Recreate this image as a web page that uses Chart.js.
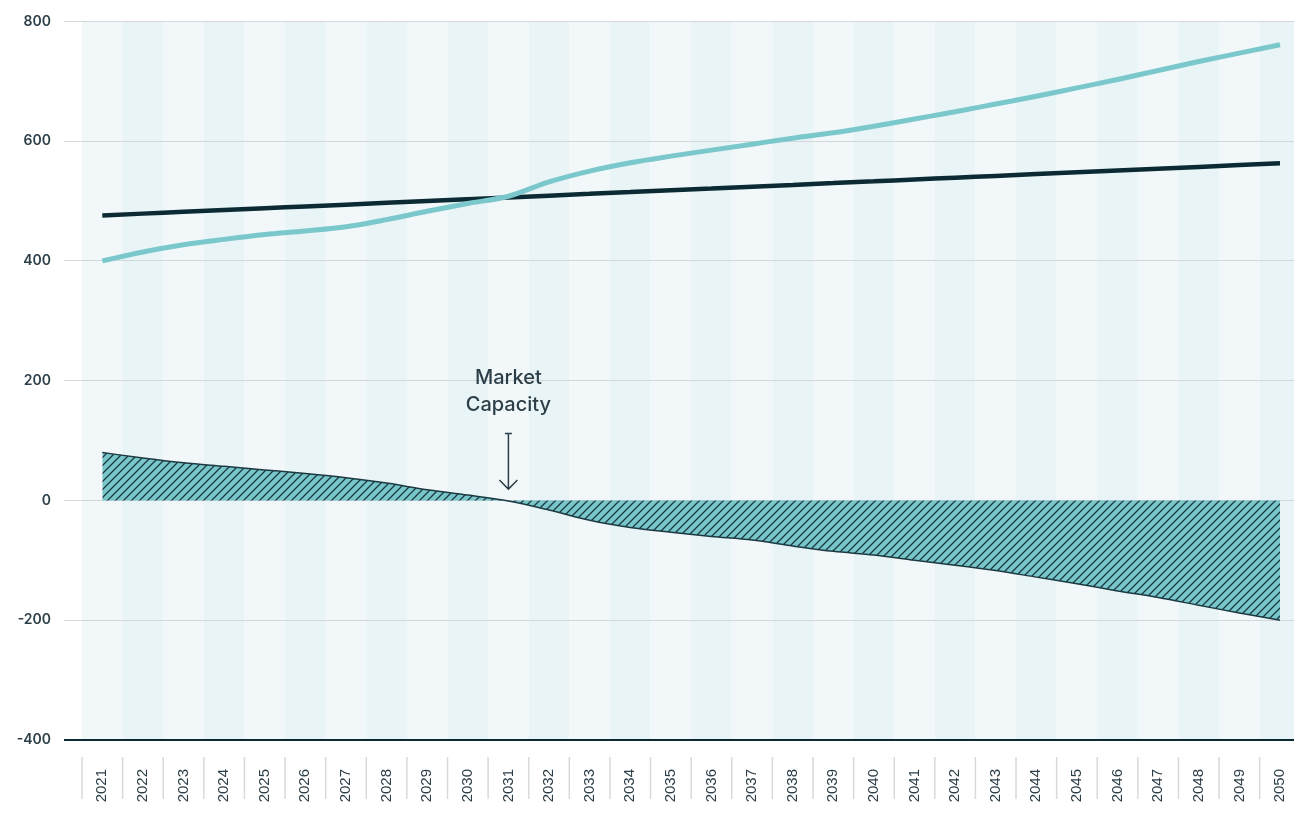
<!DOCTYPE html>
<html>
<head>
<meta charset="utf-8">
<script src="https://cdn.jsdelivr.net/npm/chart.js@4"></script>
<style>
  html, body { margin: 0; padding: 0; background: #fff; overflow: hidden; }
  #wrap { width: 1319px; height: 813px; }
</style>
</head>
<body>
<div id="wrap"><canvas id="chart"></canvas></div>
<script>
// Kategorien (Jahre)
const years = ['2021','2022','2023','2024','2025','2026','2027','2028','2029','2030',
               '2031','2032','2033','2034','2035','2036','2037','2038','2039','2040',
               '2041','2042','2043','2044','2045','2046','2047','2048','2049','2050'];

// Nachfrage (helle Linie)
const demand = [400, 415, 427, 436, 444, 450, 457, 469, 483, 496,
                508, 532, 550, 564, 575, 585, 595, 605, 614, 625,
                637, 649, 662, 675, 689, 703, 718, 733, 747, 761];

// Kapazitaet (dunkle Linie)
const capacity = [476, 479, 482, 485, 488, 491, 494, 497, 500, 503,
                  506, 509, 512, 515, 518, 521, 524, 527, 530, 533,
                  536, 539, 542, 545, 548, 551, 554, 557, 560, 563];

// Differenz (schraffierte Flaeche)
const gap = [80, 71, 63, 57, 51, 45, 38, 29, 18, 9,
             -1, -16, -33, -45, -53, -60, -66, -76, -85, -91,
             -100, -108, -117, -128, -139, -151, -162, -175, -188, -200];

const yTicks = [-400, -200, 0, 200, 400, 600, 800];

const TEXT = '#2c3e48';
const DARK = '#0b2a33';
const TEAL = '#7bc8cc';

// Schraffur-Muster fuer die Flaeche
function makeHatch() {
    const c = document.createElement('canvas');
    c.width = 8; c.height = 8;
    const g = c.getContext('2d');
    g.fillStyle = '#77c6c9';
    g.fillRect(0, 0, 8, 8);
    g.strokeStyle = '#1d3a43';
    g.lineWidth = 1.3;
    g.beginPath();
    g.moveTo(0, 8); g.lineTo(8, 0);
    g.moveTo(-2, 2); g.lineTo(2, -2);
    g.moveTo(6, 10); g.lineTo(10, 6);
    g.stroke();
    return g.createPattern(c, 'repeat');
}

// Hintergrund-Streifen pro Jahr + Trennstriche unter der Achse
const bandsPlugin = {
    id: 'bands',
    beforeDraw(chart) {
        const { ctx, chartArea, scales: { x } } = chart;
        ctx.save();
        for (let i = 0; i < years.length; i++) {
            const left = i === 0 ? chartArea.left : (x.getPixelForValue(i - 1) + x.getPixelForValue(i)) / 2;
            const right = i === years.length - 1 ? chartArea.right : (x.getPixelForValue(i) + x.getPixelForValue(i + 1)) / 2;
            ctx.fillStyle = i % 2 === 0 ? '#f2f8fa' : '#e8f4f5';
            ctx.fillRect(left, chartArea.top, right - left, chartArea.bottom - chartArea.top);
        }
        // Trennstriche zwischen den Jahres-Labels
        ctx.strokeStyle = '#d6dadd';
        ctx.lineWidth = 1.5;
        for (let i = 0; i < years.length; i++) {
            const left = i === 0 ? chartArea.left : (x.getPixelForValue(i - 1) + x.getPixelForValue(i)) / 2;
            ctx.beginPath();
            ctx.moveTo(left, chartArea.bottom + 17);
            ctx.lineTo(left, chartArea.bottom + 59);
            ctx.stroke();
        }
        ctx.restore();
    }
};

// Annotation "Market Capacity" mit Pfeil
const annotationPlugin = {
    id: 'marketCapacity',
    afterDatasetsDraw(chart) {
        const { ctx, scales: { x, y } } = chart;
        const px = x.getPixelForValue(years.indexOf('2031'));
        const top = y.getPixelForValue(112);
        const bottom = y.getPixelForValue(19);
        ctx.save();
        ctx.strokeStyle = TEXT;
        ctx.lineWidth = 1.5;
        ctx.beginPath();
        ctx.moveTo(px - 3.5, top); ctx.lineTo(px + 3.5, top);
        ctx.moveTo(px, top); ctx.lineTo(px, bottom);
        ctx.moveTo(px - 9, bottom - 9); ctx.lineTo(px, bottom); ctx.lineTo(px + 9, bottom - 9);
        ctx.stroke();
        ctx.fillStyle = TEXT;
        ctx.font = '500 20px Inter';
        ctx.textAlign = 'center';
        ctx.textBaseline = 'middle';
        ctx.fillText('Market', px, top - 55);
        ctx.fillText('Capacity', px, top - 28);
        ctx.restore();
    }
};

const ctx = document.getElementById('chart').getContext('2d');
new Chart(ctx, {
    type: 'line',
    data: {
        labels: years,
        datasets: [
            {
                label: 'Demand',
                data: demand,
                borderColor: TEAL,
                borderWidth: 5,
                pointRadius: 0,
                cubicInterpolationMode: 'monotone',
                fill: false
            },
            {
                label: 'Capacity',
                data: capacity,
                borderColor: DARK,
                borderWidth: 4.5,
                pointRadius: 0,
                cubicInterpolationMode: 'monotone',
                fill: false
            },
            {
                label: 'Gap',
                data: gap,
                borderColor: '#1d3a43',
                borderWidth: 1.5,
                backgroundColor: makeHatch(),
                pointRadius: 0,
                cubicInterpolationMode: 'monotone',
                fill: 'origin'
            }
        ]
    },
    options: {
        responsive: true,
        maintainAspectRatio: false,
        animation: false,
        layout: { padding: { left: 0, top: 12, right: 0, bottom: 0 } },
        plugins: {
            legend: { display: false },
            tooltip: { enabled: false }
        },
        scales: {
            x: {
                offset: true,
                grid: { display: false },
                border: { display: false },
                afterFit(axis) { axis.height = 73; },
                ticks: {
                    autoSkip: false,
                    maxRotation: 90,
                    minRotation: 90,
                    padding: 21,
                    color: TEXT,
                    font: { family: 'Liberation Sans', size: 15 }
                }
            },
            y: {
                min: -400,
                max: 800,
                afterBuildTicks(axis) {
                    axis.ticks = yTicks.map(v => ({ value: v }));
                },
                afterFit(axis) { axis.width = 82; },
                border: { display: false },
                grid: {
                    drawTicks: true,
                    tickLength: 18,
                    color: c => c.tick && c.tick.value === -400 ? DARK : '#d3d7da',
                    lineWidth: c => c.tick && c.tick.value === -400 ? 2 : 1
                },
                ticks: {
                    padding: 13,
                    color: TEXT,
                    font: { family: 'Inter', size: 14, weight: '600' }
                }
            }
        }
    },
    plugins: [bandsPlugin, annotationPlugin]
});
</script>
</body>
</html>
